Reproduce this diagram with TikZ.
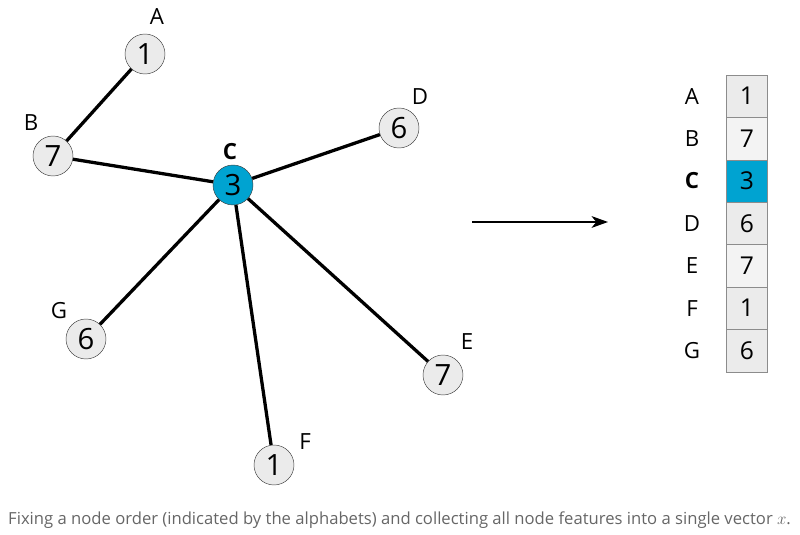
\documentclass[tikz,border=0pt]{standalone}
\usepackage{fontspec}
\setmainfont{Open Sans}
\usetikzlibrary{arrows.meta}
\definecolor{nodegray}{HTML}{EBEBEB}
\definecolor{cellpale}{HTML}{F3F3F3}
\definecolor{featblue}{HTML}{00A3D1}
\definecolor{captiongray}{HTML}{666666}
\begin{document}
\begin{tikzpicture}[x=0.03cm,y=-0.03cm,>={Stealth[length=14pt,width=10pt,inset=4pt]},
    feat/.style={circle,draw=black!75,fill=nodegray,minimum size=1.2cm,inner sep=0pt,
        font=\fontsize{25}{25}\selectfont},
    lbl/.style={font=\fontsize{19}{19}\selectfont},
    cell/.style={draw=black!45,fill=nodegray,minimum width=1.23cm,minimum height=1.27cm,
        inner sep=0pt,font=\fontsize{21}{21}\selectfont},
    edge/.style={line width=2.8pt}]
    \useasboundingbox (0,0) rectangle (800,535);

    % graph nodes
    \node[feat] (A) at (145,54) {1};
    \node[feat] (B) at (53,156) {7};
    \node[feat,fill=featblue] (C) at (233,185) {3};
    \node[feat] (D) at (399,128) {6};
    \node[feat] (E) at (443,375) {7};
    \node[feat] (F) at (274,465) {1};
    \node[feat] (G) at (86,339) {6};

    % node letters
    \node[lbl] (tA) at (157,17) {A};
    \node[lbl] (tB) at (31,123) {B};
    \node[lbl,font=\fontsize{19}{19}\selectfont\bfseries] (tC) at (230,152) {C};
    \node[lbl] (tD) at (420,97) {D};
    \node[lbl] (tE) at (467,342) {E};
    \node[lbl] (tF) at (305,442) {F};
    \node[lbl] (tG) at (59,311) {G};

    % edges
    \draw[edge] (A) -- (B);
    \draw[edge] (B) -- (C);
    \draw[edge] (C) -- (D);
    \draw[edge] (C) -- (E);
    \draw[edge] (C) -- (F);
    \draw[edge] (C) -- (G);

    % arrow
    \coordinate (from) at (472,222);
    \coordinate (to) at (608,222);
    \draw[->,line width=1.7pt] (from) -- (to);

    % feature vector
    \begin{scope}[shift={(747,75)}]
    \node[cell] (vA) at (0,21.2) {1};
    \node[cell,fill=cellpale] (vB) at (0,63.6) {7};
    \node[cell,fill=featblue] (vC) at (0,106) {3};
    \node[cell] (vD) at (0,148.4) {6};
    \node[cell,fill=cellpale] (vE) at (0,190.8) {7};
    \node[cell] (vF) at (0,233.2) {1};
    \node[cell] (vG) at (0,275.6) {6};

    \node[lbl] (rA) at (-55,21.2) {A};
    \node[lbl] (rB) at (-55,63.6) {B};
    \node[lbl,font=\fontsize{19}{19}\selectfont\bfseries] (rC) at (-55,106) {C};
    \node[lbl] (rD) at (-55,148.4) {D};
    \node[lbl] (rE) at (-55,190.8) {E};
    \node[lbl] (rF) at (-55,233.2) {F};
    \node[lbl] (rG) at (-55,275.6) {G};
    \end{scope}

    % caption
    \node[anchor=west,inner sep=0pt,text=captiongray,font=\fontsize{14.2}{14.2}\selectfont]
        (cap) at (8,520) {Fixing a node order (indicated by the alphabets) and collecting all node features into a single vector $x$.};
\end{tikzpicture}
\end{document}
